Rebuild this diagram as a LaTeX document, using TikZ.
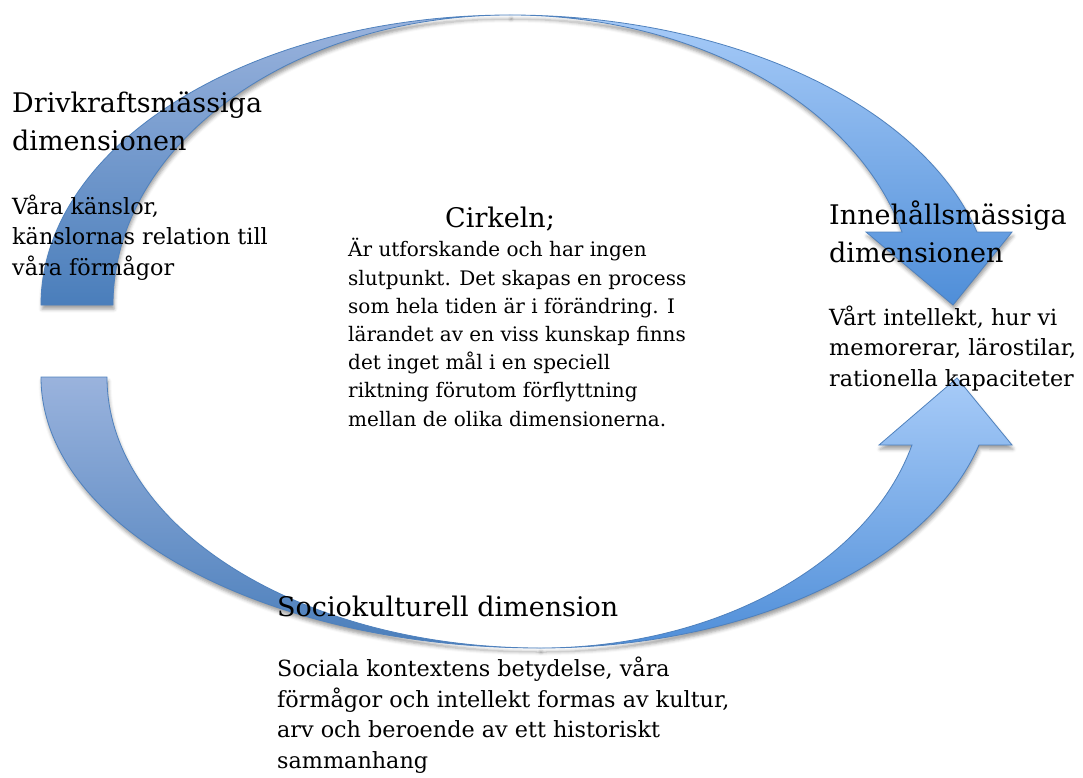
\documentclass[tikz,border=0pt]{standalone}
\usepackage{fontspec}
\setmainfont{DejaVu Serif}
\usetikzlibrary{shadows.blur}
\definecolor{backtop}{HTML}{9AB3DD}
\definecolor{backbot}{HTML}{4A7EBB}
\definecolor{fronttop}{HTML}{A7CBF8}
\definecolor{frontbot}{HTML}{4F8ED8}
\definecolor{edgeblue}{HTML}{4F81BD}
\tikzset{
	bandshadow/.style={blur shadow={shadow xshift=1pt, shadow yshift=-4pt, shadow blur radius=3.5pt, shadow opacity=38}},
	backband/.style={bandshadow, draw=edgeblue, line width=0.8pt, top color=backtop, bottom color=backbot},
	frontband/.style={bandshadow, draw=edgeblue, line width=0.8pt, top color=fronttop, bottom color=frontbot},
	headtext/.style={anchor=base west, inner sep=0pt, align=left, font=\fontsize{27}{38}\selectfont},
	bodytext/.style={anchor=base west, inner sep=0pt, align=left, font=\fontsize{22.3}{30.5}\selectfont},
	smalltext/.style={anchor=base west, inner sep=0pt, align=left, font=\fontsize{20}{28.2}\selectfont}
}

\begin{document}
\begin{tikzpicture}[x=1pt, y=-1pt]
				%%%%% START %%%%%
				\useasboundingbox (0, 0) rectangle (1083, 778);
				
				% lower arrow, back part
				\path[backband] (41, 377) arc[start angle=180, end angle=90, x radius=499, y radius=271]
					arc[start angle=90, end angle=180, x radius=433, y radius=271] -- cycle;
				% lower arrow, front part with head
				\path[frontband] (540, 648) arc[start angle=90, end angle=14.53, x radius=453.5, y radius=271]
					-- (1012, 445) -- (957, 378) -- (879, 445) -- (912, 445)
					arc[start angle=14.53, end angle=90, x radius=384.2, y radius=271] -- cycle;
				
				% upper arrow, back part
				\path[backband] (41, 305) arc[start angle=180, end angle=270, x radius=469, y radius=290]
					arc[start angle=270, end angle=180, x radius=397, y radius=290] -- cycle;
				% upper arrow, front part with head
				\path[frontband] (510, 15) arc[start angle=270, end angle=345.42, x radius=482.5, y radius=290]
					-- (1012, 232) -- (953, 305) -- (866, 232) -- (902, 232)
					arc[start angle=345.42, end angle=270, x radius=405.0, y radius=290] -- cycle;
				
				% texts (placed at the baseline of their last line)
				\node[headtext] (drivhead) at (12, 151) {Drivkraftsmässiga\\dimensionen};
				\node[bodytext] (drivtext) at (12, 275) {Våra känslor,\\känslornas relation till\\våra förmågor};
				
				\node[anchor=base west, inner sep=0pt, font=\fontsize{27}{38}\selectfont] (cirkelhead) at (445, 227) {Cirkeln;};
				\node[smalltext] (cirkeltext) at (348, 426) {Är utforskande och har ingen\\slutpunkt. Det skapas en process\\som hela tiden är i förändring. I\\lärandet av en viss kunskap finns\\det inget mål i en speciell\\riktning förutom förflyttning\\mellan de olika dimensionerna.};
				
				\node[headtext] (innehead) at (829, 262) {Innehållsmässiga\\dimensionen};
				\node[bodytext] (innetext) at (829, 386) {Vårt intellekt, hur vi\\memorerar, lärostilar,\\rationella kapaciteter};
				
				\node[headtext] (sociohead) at (277, 616) {Sociokulturell dimension};
				\node[bodytext] (sociotext) at (277, 768) {Sociala kontextens betydelse, våra\\förmågor och intellekt formas av kultur,\\arv och beroende av ett historiskt\\sammanhang};
				%%%%% END %%%%%
\end{tikzpicture}
\end{document}
